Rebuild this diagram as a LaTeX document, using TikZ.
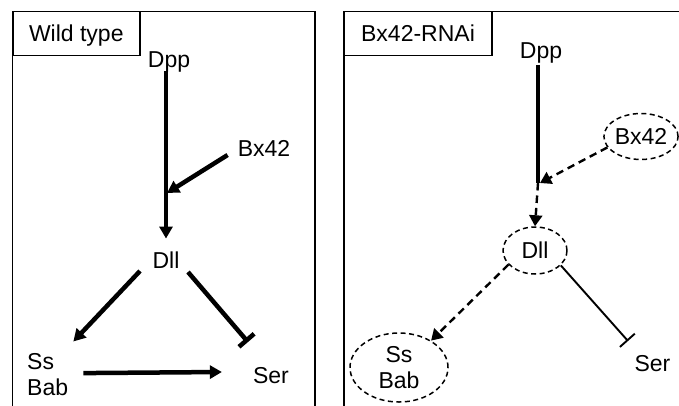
\documentclass[tikz,border=0pt]{standalone}
\usepackage{fontspec}
\setmainfont{Liberation Sans}
\usetikzlibrary{arrows.meta,shapes.geometric}
\begin{document}
\begin{tikzpicture}[x=1pt,y=-1pt,
  lbl/.style={inner sep=0pt,font=\fontsize{23}{25.5}\selectfont},
  captext/.style={lbl,text height=16.5pt,text depth=0pt},
  panel/.style={draw,line width=1.9pt},
  titlebox/.style={captext,draw,line width=1.9pt,minimum height=44pt},
  dashell/.style={ellipse,draw,line width=1.5pt,dash pattern=on 5pt off 3.5pt},
  heavy/.style={line width=4.5pt,-{Triangle[length=12pt,width=13pt]}},
  heavyinh/.style={line width=4.5pt,-{Bar[width=20pt]}},
  thininh/.style={line width=1.9pt,-{Bar[width=20pt]}},
  weak/.style={line width=2.4pt,dash pattern=on 7.5pt off 5pt,-{Triangle[length=11pt,width=13pt]}},
]
\useasboundingbox (0,0) rectangle (679,405);
\clip (0,0) rectangle (679,405);
\fill[white] (0,0) rectangle (679,405);

% panels
\draw[panel] (12.5,11.5) rectangle (315,430);
\draw[panel] (344,11.5) rectangle (700,430);

% wild type network
\node[titlebox,minimum width=127.5pt] (t1) at (76.3,33.5) {Wild type};
\node[captext] (dpp1) at (169,59.5) {Dpp};
\node[captext] (bx1) at (264,148.5) {Bx42};
\node[captext] (dll1) at (166,260) {Dll};
\node[lbl,align=left,anchor=north west] (sb1) at (27,353.5) {Ss\\Bab};
\node[captext] (ser1) at (271,375) {Ser};
\coordinate (j1) at (167,193);

\draw[heavy] ([shift={(-3,3)}]dpp1.south) -- ([shift={(0,-13)}]dll1.north);
\draw[heavy] ([shift={(-10,6.5)}]bx1.west) -- (j1);
\draw[heavy] ([shift={(-26,11)}]dll1.center) -- ([shift={(5,-12)}]sb1.north east);
\draw[heavyinh] ([shift={(22,12)}]dll1.center) -- ([shift={(-23,-33)}]ser1.center);
\draw[heavy] ([shift={(15,-1.5)}]sb1.east) -- ([shift={(-31,-3)}]ser1.west);

% Bx42-RNAi network
\node[titlebox,minimum width=148pt] (t2) at (418,33.5) {Bx42-RNAi};
\node[captext] (dpp2) at (541,50.5) {Dpp};
\node[dashell,captext,minimum width=72pt,minimum height=46pt] (bx2) at (641,136.5) {Bx42};
\node[dashell,captext,minimum width=64pt,minimum height=47pt] (dll2) at (535,250.5) {Dll};
\node[dashell,lbl,align=center,minimum width=98pt,minimum height=69pt] (sb2) at (399,367.5) {Ss\\Bab};
\node[captext] (ser2) at (652.5,363.5) {Ser};
\coordinate (j2) at (538,183);

\draw[line width=4.5pt] ([shift={(-3,6)}]dpp2.south) -- (j2);
\draw[weak] (j2) -- (dll2.north);
\draw[weak] (bx2.198) -- ([shift={(2,0)}]j2);
\draw[weak] (dll2.208) -- (sb2.40);
\draw[thininh] (dll2.330) -- ([shift={(-24.5,-22.5)}]ser2.center);
\end{tikzpicture}
\end{document}
